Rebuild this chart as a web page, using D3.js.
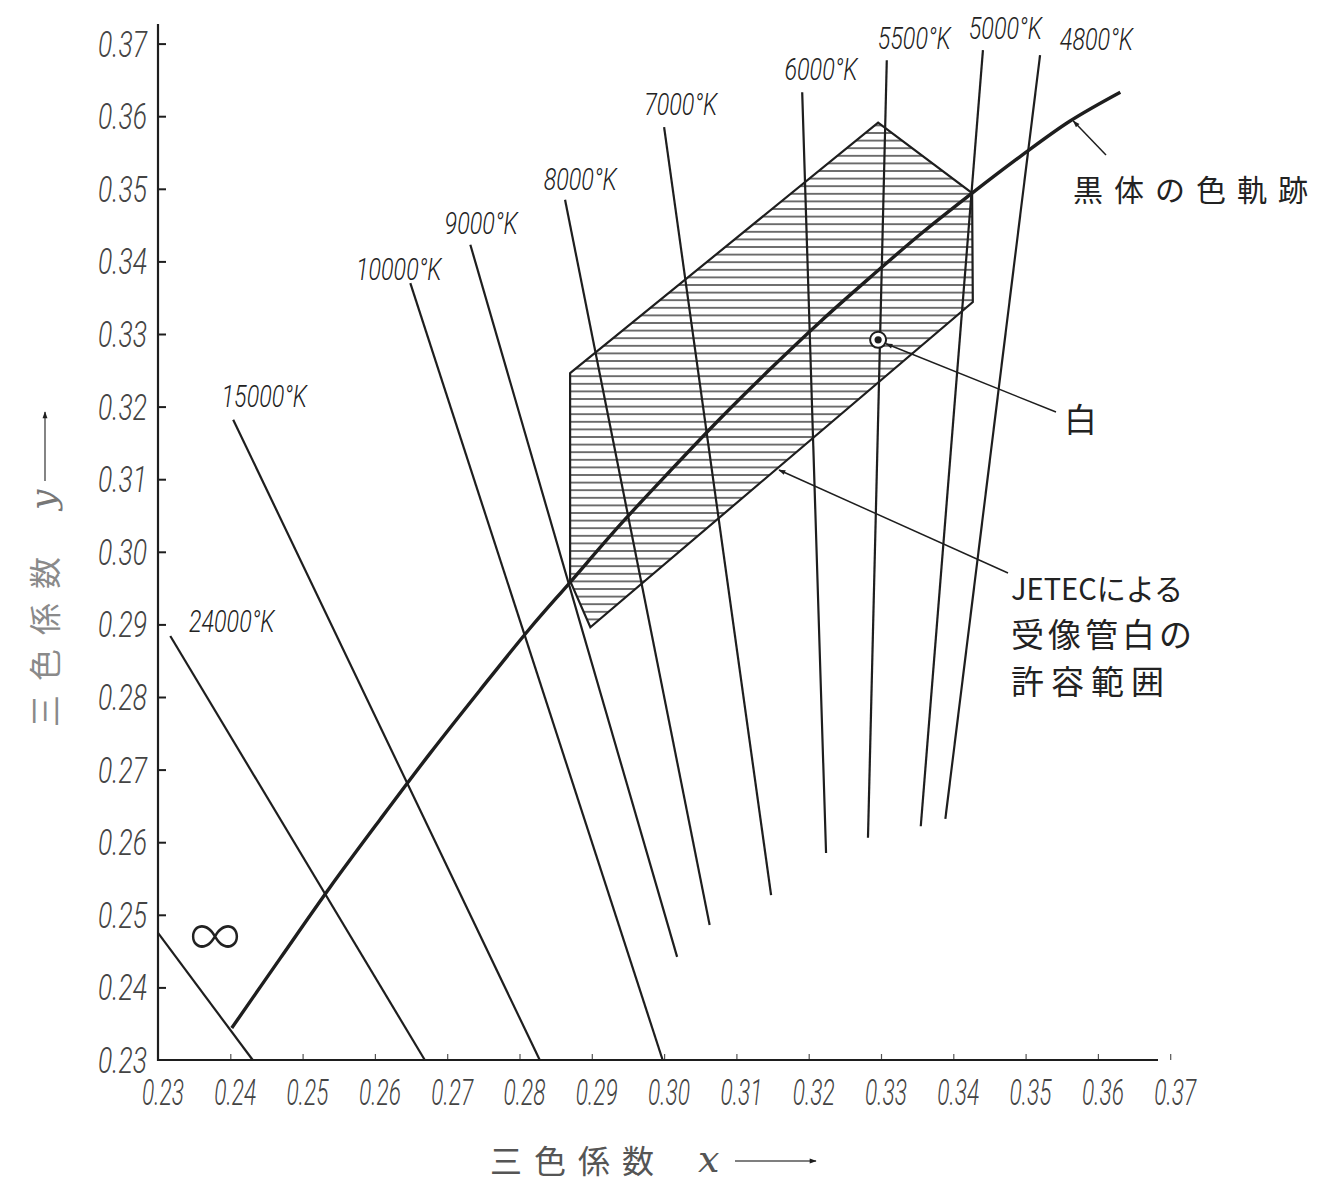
<!DOCTYPE html>
<html>
<head>
<meta charset="utf-8">
<script src="https://cdn.jsdelivr.net/npm/d3@7"></script>
<style>
  html, body { margin: 0; padding: 0; background: #fff; }
  svg { display: block; }
</style>
</head>
<body>
<svg id="chart" width="1339" height="1182"></svg>
<script>
// ---------------- DATA ----------------
const xTicks = [0.23,0.24,0.25,0.26,0.27,0.28,0.29,0.30,0.31,0.32,0.33,0.34,0.35,0.36,0.37];
const yTicks = [0.23,0.24,0.25,0.26,0.27,0.28,0.29,0.30,0.31,0.32,0.33,0.34,0.35,0.36,0.37];
const tickLabels = ["0.23","0.24","0.25","0.26","0.27","0.28","0.29","0.30","0.31","0.32","0.33","0.34","0.35","0.36","0.37"];

// Black-body (Planckian) locus
const locusX = [0.2402,0.2469,0.2538,0.2607,0.2676,0.2745,0.2814,0.2870,0.2939,0.3008,0.3077,0.3146,0.3216,0.3285,0.3354,0.3426,0.3492,0.3561,0.3631];
const locusY = [0.2344,0.2440,0.2538,0.2631,0.2722,0.2809,0.2894,0.2958,0.3037,0.3111,0.3183,0.3251,0.3317,0.3378,0.3437,0.3494,0.3544,0.3593,0.3633];

// Iso-temperature lines
const isoNames = ["∞","24000°K","15000°K","10000°K","9000°K","8000°K","7000°K","6000°K","5500°K","5000°K","4800°K"];
const isoX1 = [0.2300,0.2317,0.2404,0.2649,0.2732,0.2863,0.3000,0.3191,0.3308,0.3441,0.3520];
const isoY1 = [0.2475,0.2884,0.3182,0.3370,0.3423,0.3485,0.3585,0.3633,0.3677,0.3691,0.3684];
const isoX2 = [0.2431,0.2669,0.2828,0.2998,0.3018,0.3063,0.3148,0.3224,0.3282,0.3355,0.3389];
const isoY2 = [0.2300,0.2300,0.2300,0.2300,0.2442,0.2486,0.2527,0.2585,0.2606,0.2622,0.2632];
// label anchors (data units, centre of label)
const isoLabelX = [0.2379,0.2402,0.2447,0.2633,0.2747,0.2884,0.3023,0.3217,0.3346,0.3472,0.3598];
const isoLabelY = [0.2462,0.2906,0.3216,0.3391,0.3454,0.3515,0.3618,0.3666,0.3709,0.3723,0.3708];

// JETEC tolerance region for picture-tube white
const regionX = [0.2870,0.3296,0.3426,0.3427,0.2898,0.2870];
const regionY = [0.3246,0.3591,0.3494,0.3344,0.2896,0.2960];

// White point
const whiteX = [0.3296];
const whiteY = [0.3292];

// Annotation texts
const locusLabel = "黒体の色軌跡";
const whiteLabel = "白";
const jetecLines = ["JETECによる","受像管白の","許容範囲"];
const xTitle = "三色係数";
const yTitle = "三色係数";

// ---------------- DRAW ----------------
const svg = d3.select("#chart");
const x = d3.scaleLinear().domain([0.23, 0.37]).range([158, 158 + 14 * 72.3]);
const y = d3.scaleLinear().domain([0.23, 0.37]).range([1060, 1060 - 14 * 72.6]);

const ink = "#1e1e1e";
const defs = svg.append("defs");

// hatching pattern
const pat = defs.append("pattern").attr("id", "hatch")
  .attr("patternUnits", "userSpaceOnUse").attr("width", 12).attr("height", 7.6);
pat.append("line").attr("x1", 0).attr("x2", 12).attr("y1", 3.8).attr("y2", 3.8)
  .attr("stroke", "#262626").attr("stroke-width", 1.3);

// arrow marker
defs.append("marker").attr("id", "arr").attr("viewBox", "0 0 10 10")
  .attr("refX", 9).attr("refY", 5).attr("markerWidth", 9).attr("markerHeight", 7)
  .attr("markerUnits", "userSpaceOnUse")
  .attr("orient", "auto")
  .append("path").attr("d", "M0,1.5 L10,5 L0,8.5 Z").attr("fill", ink);

// ---- axes ----
const numFont = "'Roboto', 'Liberation Sans', sans-serif";
const xAxis = d3.axisBottom(x).tickValues(xTicks).tickSizeInner(-6).tickSizeOuter(0).tickFormat("");
const yAxis = d3.axisLeft(y).tickValues(yTicks).tickSizeInner(-8).tickSizeOuter(0).tickFormat("");

const gx = svg.append("g").attr("transform", `translate(0,${y(0.23)})`).call(xAxis);
gx.select(".domain").remove();
gx.selectAll(".tick line").attr("stroke", "#555").attr("stroke-width", 1.2);
gx.selectAll(".tick").filter(d => d === 0.23).remove();

const gy = svg.append("g").attr("transform", `translate(${x(0.23)},0)`).call(yAxis);
gy.select(".domain").remove();
gy.selectAll(".tick line").attr("stroke", ink).attr("stroke-width", 2);
gy.selectAll(".tick").filter(d => d === 0.23).remove();

// axis lines
svg.append("line").attr("x1", x(0.23)).attr("x2", x(0.23)).attr("y1", y(0.23) + 1).attr("y2", 24)
  .attr("stroke", ink).attr("stroke-width", 2.2);
svg.append("line").attr("x1", x(0.23) - 1).attr("x2", 1158).attr("y1", y(0.23)).attr("y2", y(0.23))
  .attr("stroke", ink).attr("stroke-width", 2.2);

// tick labels
svg.append("g").selectAll("text").data(xTicks).join("text")
  .attr("x", d => x(d) + 5).attr("y", y(0.23) + 45)
  .attr("text-anchor", "middle")
  .attr("font-family", numFont).attr("font-style", "italic").attr("font-weight", 300).attr("font-size", 36)
  .attr("textLength", 42).attr("lengthAdjust", "spacingAndGlyphs")
  .attr("fill", "#444")
  .text((d, i) => tickLabels[i]);

svg.append("g").selectAll("text").data(yTicks).join("text")
  .attr("x", 147).attr("y", d => y(d) + 13)
  .attr("text-anchor", "end")
  .attr("font-family", numFont).attr("font-style", "italic").attr("font-weight", 300).attr("font-size", 36)
  .attr("textLength", 49).attr("lengthAdjust", "spacingAndGlyphs")
  .attr("fill", "#444")
  .text((d, i) => tickLabels[i]);

// axis titles
const cjk = "'Noto Sans CJK JP', 'Noto Sans CJK SC', sans-serif";
svg.append("text").attr("x", 490).attr("y", 1173)
  .attr("font-family", cjk).attr("font-size", 32).attr("letter-spacing", 12)
  .attr("fill", "#555").text(xTitle);
svg.append("text").attr("x", 698).attr("y", 1172)
  .attr("font-family", "'DejaVu Serif', 'Liberation Serif', serif").attr("font-style", "italic")
  .attr("font-size", 38).attr("fill", "#555").text("x");
svg.append("line").attr("x1", 735).attr("x2", 816).attr("y1", 1161).attr("y2", 1161)
  .attr("stroke", "#555").attr("stroke-width", 1.6).attr("marker-end", "url(#arr)");

const yt = svg.append("g").attr("transform", "translate(45,565) rotate(-90)");
yt.append("text").attr("x", -162).attr("y", 12)
  .attr("font-family", cjk).attr("font-size", 32).attr("letter-spacing", 14)
  .attr("fill", "#8a8a8a").text(yTitle);
yt.append("text").attr("x", 55).attr("y", 10)
  .attr("font-family", "'DejaVu Serif', 'Liberation Serif', serif").attr("font-style", "italic")
  .attr("font-size", 36).attr("fill", "#777").text("y");
yt.append("line").attr("x1", 84).attr("x2", 153).attr("y1", 0).attr("y2", 0)
  .attr("stroke", "#666").attr("stroke-width", 1.6).attr("marker-end", "url(#arr)");

// ---- tolerance region ----
const regionPts = regionX.map((d, i) => [x(d), y(regionY[i])]);
svg.append("polygon").attr("points", regionPts.map(p => p.join(",")).join(" "))
  .attr("fill", "url(#hatch)").attr("stroke", ink).attr("stroke-width", 2.2)
  .attr("stroke-linejoin", "miter");

// ---- iso-temperature lines ----
svg.append("g").selectAll("line").data(isoNames).join("line")
  .attr("x1", (d, i) => x(isoX1[i])).attr("y1", (d, i) => y(isoY1[i]))
  .attr("x2", (d, i) => x(isoX2[i])).attr("y2", (d, i) => y(isoY2[i]))
  .attr("stroke", ink).attr("stroke-width", 2.2);

svg.append("g").selectAll("text").data(isoNames).join("text")
  .attr("x", (d, i) => x(isoLabelX[i])).attr("y", (d, i) => y(isoLabelY[i]) + (i === 0 ? 16 : 12))
  .attr("text-anchor", "middle")
  .attr("font-family", (d, i) => i === 0 ? cjk : numFont)
  .attr("font-style", (d, i) => i === 0 ? "normal" : "italic")
  .attr("font-weight", 300)
  .attr("font-size", (d, i) => i === 0 ? 58 : 32)
  .attr("textLength", (d, i) => i === 0 ? 50 : d.length * 12.2)
  .attr("lengthAdjust", "spacingAndGlyphs")
  .attr("fill", "#222")
  .text(d => d);

// ---- black body locus ----
const line = d3.line().x(d => x(d[0])).y(d => y(d[1])).curve(d3.curveCatmullRom);
svg.append("path").datum(locusX.map((d, i) => [d, locusY[i]]))
  .attr("d", line).attr("fill", "none").attr("stroke", ink).attr("stroke-width", 3.4);

// ---- white point ----
svg.append("circle").attr("cx", x(whiteX[0])).attr("cy", y(whiteY[0])).attr("r", 8)
  .attr("fill", "#fff").attr("stroke", ink).attr("stroke-width", 2);
svg.append("circle").attr("cx", x(whiteX[0])).attr("cy", y(whiteY[0])).attr("r", 3.6)
  .attr("fill", ink);

// ---- annotations ----
// locus label + leader
svg.append("line").attr("x1", 1106).attr("y1", 155)
  .attr("x2", x(0.3566)).attr("y2", y(0.3596) + 2)
  .attr("stroke", ink).attr("stroke-width", 1.5).attr("marker-end", "url(#arr)");
svg.append("text").attr("x", 1073).attr("y", 201)
  .attr("font-family", cjk).attr("font-size", 30).attr("letter-spacing", 11)
  .attr("fill", "#222").text(locusLabel);

// white label + leader
svg.append("line").attr("x1", 1056).attr("y1", 412)
  .attr("x2", x(whiteX[0]) + 8).attr("y2", y(whiteY[0]) + 4)
  .attr("stroke", ink).attr("stroke-width", 1.5).attr("marker-end", "url(#arr)");
svg.append("text").attr("x", 1064).attr("y", 432)
  .attr("font-family", cjk).attr("font-size", 33)
  .attr("fill", "#222").text(whiteLabel);

// JETEC label + leader
svg.append("line").attr("x1", 1008).attr("y1", 573)
  .attr("x2", 779).attr("y2", 470)
  .attr("stroke", ink).attr("stroke-width", 1.5).attr("marker-end", "url(#arr)");
const jt = svg.append("g").attr("font-family", cjk).attr("fill", "#222");
jt.append("text").attr("x", 1011).attr("y", 600).attr("font-size", 30)
  .attr("textLength", 172).attr("lengthAdjust", "spacingAndGlyphs").text(jetecLines[0]);
jt.append("text").attr("x", 1011).attr("y", 647).attr("font-size", 33).attr("letter-spacing", 4).text(jetecLines[1]);
jt.append("text").attr("x", 1011).attr("y", 694).attr("font-size", 33).attr("letter-spacing", 7).text(jetecLines[2]);
</script>
</body>
</html>
